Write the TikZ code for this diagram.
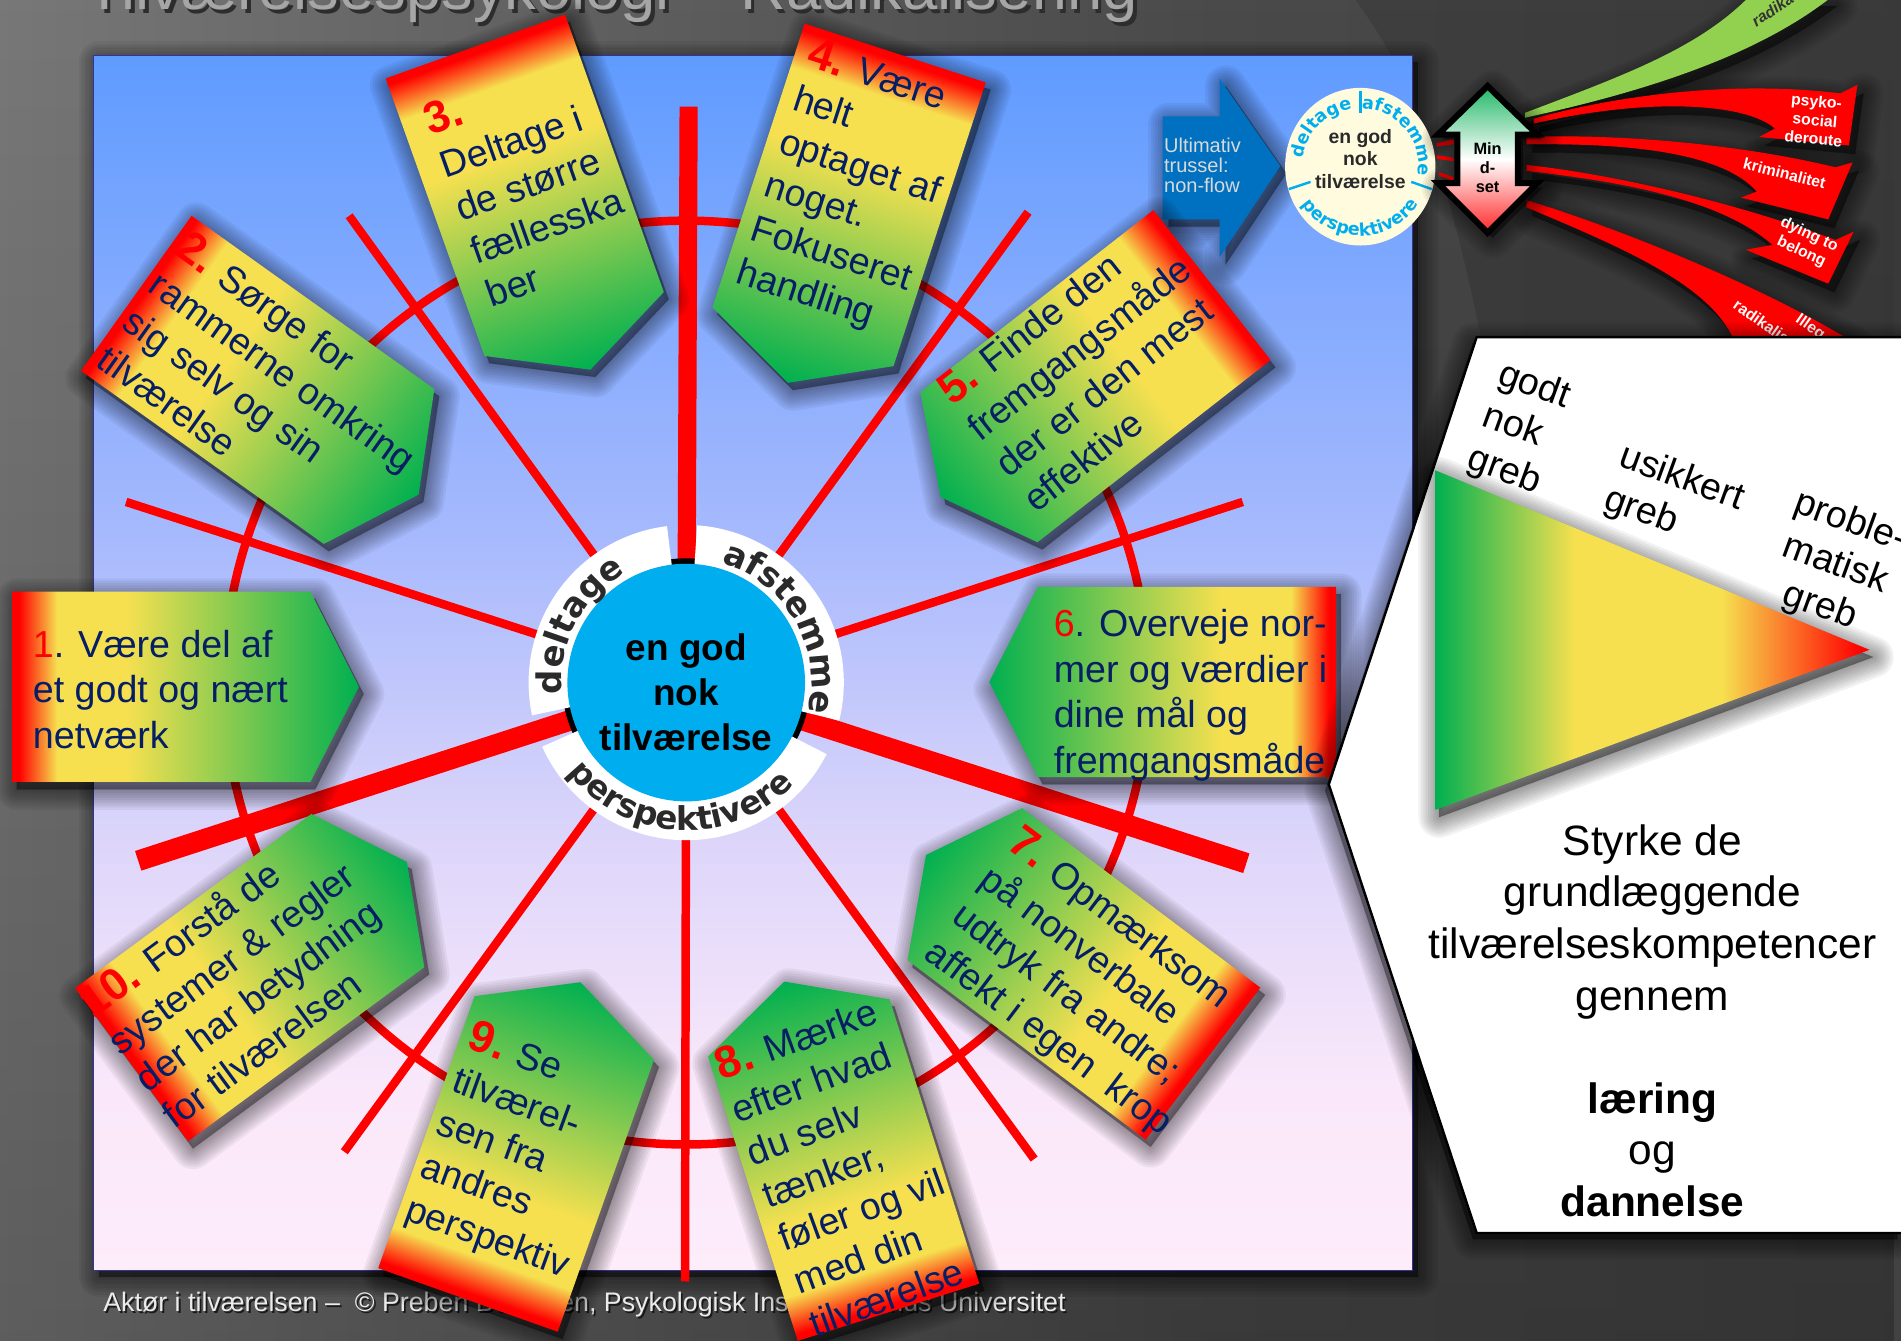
\documentclass[tikz,border=0pt]{standalone}
\usepackage{fontspec}
\setmainfont{Liberation Sans}
\newfontfamily\dv{DejaVu Sans}
\usetikzlibrary{decorations.text,fadings}
\definecolor{navy}{RGB}{5,30,100}
\definecolor{yel}{RGB}{246,224,80}
\definecolor{grn}{RGB}{0,176,80}
\definecolor{ringtxt}{RGB}{42,42,42}
\definecolor{sky}{RGB}{0,174,239}
\definecolor{cream}{RGB}{255,251,222}
\definecolor{arrowblue}{RGB}{0,112,192}
\definecolor{swgreen}{RGB}{146,208,80}
\pgfdeclarehorizontalshading{boxshade}{100bp}{color(0bp)=(red); color(26bp)=(red); color(31.5bp)=(yel); color(41.5bp)=(yel); color(75bp)=(grn); color(100bp)=(grn)}
\pgfdeclarehorizontalshading{trishade}{100bp}{color(0bp)=(grn); color(25bp)=(grn); color(41bp)=(yel); color(58bp)=(yel); color(74bp)=(red); color(100bp)=(red)}
\pgfdeclareverticalshading{panelshade}{100bp}{rgb(0bp)=(.992,.925,.98); rgb(25bp)=(.992,.925,.98); rgb(32.4bp)=(.98,.91,.98); rgb(42.4bp)=(.87,.84,.98); rgb(55.4bp)=(.65,.725,.992); rgb(75bp)=(.373,.608,1); rgb(100bp)=(.373,.608,1)}
\pgfdeclareverticalshading{mindshade}{100bp}{rgb(0bp)=(1,.15,.15); rgb(25bp)=(1,.15,.15); rgb(50bp)=(1,1,1); rgb(75bp)=(.13,.72,.4); rgb(100bp)=(.13,.72,.4)}
\pgfdeclarehorizontalshading{bgshade}{100bp}{rgb(0bp)=(.47,.47,.47); rgb(25bp)=(.47,.47,.47); rgb(38bp)=(.39,.39,.39); rgb(57bp)=(.29,.29,.29); rgb(75bp)=(.26,.26,.26); rgb(100bp)=(.26,.26,.26)}
\tikzset{
 softshade/.style={fill=black,draw=black,opacity=.05,line join=round},
 spoke/.style={red,line width=7pt},
 thickspoke/.style={red,line width=17pt},
 boxtxt/.style={text=navy,font=\fontsize{31}{37.6}\selectfont},
 sw/.style={font=\bfseries\fontsize{13}{15.5}\selectfont,text=white,inner sep=0pt,align=center}
}
\newcommand{\pent}[1]{(0,0) -- (#1,0) -- (#1+40,78.5) -- (#1,157) -- (0,157) -- cycle}
\newcommand{\softshadow}[3]{% dx dy path
 \begin{scope}[xshift=#1pt,yshift=-#2pt]
 \foreach \w in {34,30,26,22,18,14,10,6,2}{\path[softshade,line width=\w pt] #3;}
 \end{scope}}
\newcommand{\gbox}[4]{%
 \begin{scope}[transform canvas={shift={(#1,#2)},xshift=4pt,yshift=-6pt,rotate=#3}]
 \foreach \w in {34,30,26,22,18,14,10,6,2}{\path[softshade,line width=\w pt] \pent{#4};}
 \end{scope}
 \begin{scope}[transform canvas={shift={(#1,#2)},rotate=#3}]
 \shade[shading=boxshade] \pent{#4};
 \end{scope}}
\newcommand{\txt}[6][left]{%
 \begin{scope}[shift={(#3,#4)},rotate=#5]
 \node[anchor=north west,inner sep=0pt,align=#1,transform shape,boxtxt] (#2) at (0,-28) {\rule{0pt}{28pt}#6};
 \end{scope}}
\newcommand{\nm}[1]{{\bfseries\fontsize{37}{37}\selectfont\color{red}#1}}
\begin{document}
\begin{tikzpicture}[x=1pt,y=-1pt]
\path[use as bounding box] (0,0) rectangle (1568,1106);
\clip (0,0) rectangle (1568,1106);
% background
\shade[shading=bgshade] (0,0) rectangle (1568,1106);
\fill[black,opacity=.22,path fading=north] (0,0) rectangle (1568,1106);
\fill[black,opacity=.12] (1118,0) .. controls (1170,70) and (1195,150) .. (1222,280) -- (1568,280) -- (1568,0) -- cycle;
% title
\node[anchor=base west,inner sep=0pt,text=black!65!gray,font=\fontsize{52.2}{52}\selectfont] (titleshadow) at (73,11) {Tilværelsespsykologi – Radikalisering};
\node[anchor=base west,inner sep=0pt,text=black!35!white,font=\fontsize{52.2}{52}\selectfont] (title) at (70,8) {Tilværelsespsykologi – Radikalisering};
% panel
\softshadow{5}{5}{(77,46) rectangle (1165,1048)}
\shade[shading=panelshade] (77,46) rectangle (1165,1048);
\draw[black!30!blue!60!gray,line width=1.2pt] (77,46) rectangle (1165,1048);
% footer
\node[anchor=base west,inner sep=0pt,text=black!80!gray,font=\fontsize{22.1}{24}\selectfont] (footshadow) at (86.5,1083.5) {Aktør i tilværelsen –\ \ © Preben Bertelsen, Psykologisk Institut, Aarhus Universitet};
\node[anchor=base west,inner sep=0pt,text=black!8!white,font=\fontsize{22.1}{24}\selectfont] (foot) at (85,1082) {Aktør i tilværelsen –\ \ © Preben Bertelsen, Psykologisk Institut, Aarhus Universitet};
% wheel
\coordinate (c) at (566,563);
\coordinate (s1) at (568,88);
\coordinate (s2) at (848,175);
\coordinate (s3) at (1025,414);
\coordinate (s4) at (1028,712);
\coordinate (s5) at (853,956);
\coordinate (s6) at (565,1057);
\coordinate (s7) at (284,950);
\coordinate (s8) at (114,710);
\coordinate (s9) at (104,414);
\coordinate (s10) at (288,178);
\draw[red,line width=7pt] (c) circle[radius=381];
\draw[red,line width=15pt] (c) -- (s1);
\draw[spoke] (c) -- (s2);
\draw[spoke] (c) -- (s3);
\draw[thickspoke] (c) -- (s4);
\draw[spoke] (c) -- (s5);
\draw[spoke] (c) -- (s6);
\draw[spoke] (c) -- (s7);
\draw[thickspoke] (c) -- (s8);
\draw[spoke] (c) -- (s9);
\draw[spoke] (c) -- (s10);
% hub
\begin{scope}[shift={(c)},x=1pt,y=1pt]
\fill[black] (0,0) circle[radius=102.5];
\fill[white] (97:97) arc (97:192:97) -- (192:130) arc (192:97:130) -- cycle;
\fill[white] (86:97) arc (86:-14:97) -- (-14:130) arc (-14:86:130) -- cycle;
\fill[white] (204:97) arc (204:333:97) -- (333:130) arc (333:204:130) -- cycle;
\fill[sky] (0,0) circle[radius=98];
\path[decorate,decoration={text along path,text align=center,text={|\dv\bfseries\fontsize{28}{28}\selectfont\color{ringtxt}|deltage}}] (192:103) arc (192:112:103);
\path[decorate,decoration={text along path,text align=center,text={|\dv\bfseries\fontsize{28}{28}\selectfont\color{ringtxt}|afstemme}}] (80:103) arc (80:-20:103);
\path[decorate,decoration={text along path,text align=center,text={|\dv\bfseries\fontsize{27}{27}\selectfont\color{ringtxt}|perspektivere}}] (205:122) arc (205:329:122);
\end{scope}
\node[inner sep=0pt,align=center,text=black,font=\bfseries\fontsize{30.5}{36.9}\selectfont] (core) at (566,571) {en god\\nok\\tilværelse};
% blue arrow
\softshadow{5}{6}{(959,96) -- (1006,96) -- (1006,65) -- (1056,137) -- (1006,212) -- (1006,181) -- (959,181) -- cycle}
\fill[arrowblue] (959,96) -- (1006,96) -- (1006,65) -- (1056,137) -- (1006,212) -- (1006,181) -- (959,181) -- cycle;
\node[anchor=west,inner sep=0pt,align=left,text=black!15!white,font=\fontsize{16.5}{16.5}\selectfont] (threat) at (960,136) {Ultimativ\\trussel:\\non-flow};
% small circle
\fill[cream] (1122,137.5) ellipse[x radius=62,y radius=65];
\begin{scope}[shift={(1122,137.5)},x=1pt,y=1pt]
\path[decorate,decoration={text along path,text align=center,text={|\dv\bfseries\fontsize{14.5}{14.5}\selectfont\color{sky}|deltage}}] (180:48) arc (180:90:48);
\path[decorate,decoration={text along path,text align=center,text={|\dv\bfseries\fontsize{14.5}{14.5}\selectfont\color{sky}|afstemme}}] (90:48) arc (90:-10:48);
\path[decorate,decoration={text along path,text align=center,text={|\dv\bfseries\fontsize{14.5}{14.5}\selectfont\color{sky}|perspektivere}}] (205:57) arc (205:335:57);
\end{scope}
\coordinate (b1) at (1122,75); \coordinate (b2) at (1122,93);
\coordinate (b3) at (1063,156); \coordinate (b4) at (1081,150);
\coordinate (b5) at (1164,150); \coordinate (b6) at (1181,156);
\draw[sky,line width=2pt] (b1) -- (b2);
\draw[sky,line width=2pt] (b3) -- (b4);
\draw[sky,line width=2pt] (b5) -- (b6);
\node[inner sep=0pt,align=center,text=ringtxt,font=\bfseries\fontsize{16}{18.5}\selectfont] (minic) at (1122,131) {en god\\nok\\tilværelse};
% swooshes
\def\swg{(1258,93) .. controls (1340,62) and (1400,40) .. (1442,-2) -- (1510,-2) .. controls (1450,45) and (1360,75) .. (1258,97) -- cycle}
\def\swa{(1265,98) .. controls (1320,82) and (1420,65) .. (1518,77) -- (1532,70) -- (1525,120) -- (1451,113) -- (1464,106) .. controls (1440,85) and (1360,80) .. (1265,102) -- cycle}
\def\swb{(1259,113) .. controls (1340,110) and (1440,120) .. (1514,138) -- (1528,134) -- (1508,181) -- (1436,163) -- (1449,158) .. controls (1420,125) and (1340,118) .. (1259,119) -- cycle}
\def\swc{(1259,136) .. controls (1340,145) and (1440,170) .. (1514,198) -- (1529,191) -- (1508,234) -- (1440,206) -- (1462,202) .. controls (1420,165) and (1340,150) .. (1259,141) -- cycle}
\def\swd{(1259,165) .. controls (1340,190) and (1450,235) .. (1525,280) -- (1430,280) .. controls (1410,235) and (1340,205) .. (1259,171) -- cycle}
\softshadow{5}{7}{\swg}
\softshadow{5}{7}{\swa}
\softshadow{5}{7}{\swb}
\softshadow{5}{7}{\swc}
\softshadow{5}{7}{\swd}
\fill[swgreen] \swg;
\fill[red] \swa;
\fill[red] \swb;
\fill[red] \swc;
\fill[red] \swd;
\fill[red] (1185,118) -- (1199,115) -- (1199,119) -- (1185,121) -- cycle;
\fill[red] (1185,128) -- (1199,130) -- (1199,133) -- (1185,131) -- cycle;
\fill[red] (1187,142) -- (1199,146) -- (1199,149) -- (1187,145) -- cycle;
\node[sw,text=black!80!white,font=\itshape\bfseries\fontsize{13}{15}\selectfont,rotate=34] (g) at (1462,8) {radika};
\node[sw,rotate=-5] (r1) at (1497,99) {psyko-\\social\\deroute};
\node[sw,rotate=-14] (r2) at (1472,143) {kriminalitet};
\node[sw,rotate=-25] (r3) at (1489,201) {dying to\\belong};
\node[sw,rotate=-35] (r4) at (1453,265) {radikalis};
\node[sw,rotate=-35] (r5) at (1493,270) {Illeg};
% mindset arrow
\def\mind{(1227,71) -- (1268,111) -- (1252,111) -- (1252,151) -- (1268,151) -- (1227,192) -- (1186,151) -- (1202,151) -- (1202,111) -- (1186,111) -- cycle}
\softshadow{4}{4}{\mind}
\shade[shading=mindshade,draw=black,line width=5pt,miter limit=10] \mind;
\node[inner sep=0pt,align=center,text=black,font=\bfseries\fontsize{13.5}{15.8}\selectfont] (mind) at (1227,138) {Min\\d-\\set};
% boxes
\gbox{10}{488}{0}{246}\gbox{158}{178}{-35.5}{246}\gbox{466}{12}{-70.4}{243}\gbox{813}{68}{-108}{246}
\gbox{1048}{297}{-142}{244}\gbox{1102}{641}{180}{246}\gbox{945}{940}{143}{246}\gbox{658}{1106}{107.5}{246}
\gbox{312}{1046}{70.5}{238}\gbox{62}{815}{36.4}{242}
\txt{t1}{27}{542}{0}{{\color{red}1}. Være del af\\et godt og nært\\netværk}
\txt{t2}{143}{209}{-35.5}{\nm{2.} Sørge for\\rammerne omkring\\sig selv og sin\\tilværelse}
\txt{t3}{355}{112}{19.5}{\nm{3.}\\Deltage i\\de større\\fællesska\\ber}
\txt{t4}{664}{54}{-18}{\nm{4.} Være\\helt\\optaget af\\noget.\\Fokuseret\\handling}
\txt{t5}{785}{335}{38}{\nm{5.} Finde den\\fremgangsmåde\\der er den mest\\effektive}
\txt{t6}{869}{525}{0}{{\color{red}6}. Overveje nor-\\mer og værdier i\\dine mål og\\fremgangsmåde}
\txt{t7}{829}{699}{-37}{\nm{7.} Opmærksom\\på nonverbale\\udtryk fra andre;\\affekt i egen\ \ krop}
\txt{t8}{595}{891}{20}{\nm{8.} Mærke\\efter hvad\\du selv\\tænker,\\føler og vil\\med din\\tilværelse}
\txt{t9}{384}{864}{-20}{\nm{9.} Se\\tilværel-\\sen fra\\andres\\perspektiv}
\txt{t10}{77}{841}{36.4}{\nm{10.} Forstå de\\systemer \& regler\\der har betydning\\for tilværelsen}
% white panel
\softshadow{-3}{5}{(1218,278) -- (1568,278) -- (1568,1017) -- (1218,1017) -- (1096,647) -- cycle}
\draw[black,line width=2pt,fill=white] (1218,278) -- (1570,278) -- (1570,1017) -- (1218,1017) -- (1096,647) -- cycle;
\softshadow{3}{6}{(1184,388) -- (1542,536) -- (1184,668) -- cycle}
\shade[shading=trishade] (1184,388) -- (1542,536) -- (1184,668) -- cycle;
\begin{scope}[boxtxt/.style={text=black,font=\fontsize{31}{37}\selectfont}]
\txt{l1}{1234}{316}{-20}{godt\\nok\\greb}
\txt{l2}{1334}{384}{-20}{usikkert\\greb}
\txt[center]{l3}{1478}{422}{-20}{proble-\\matisk\\greb}
\end{scope}
\node[anchor=north,inner sep=0pt,align=center,text=black,font=\fontsize{35}{42.5}\selectfont] (msg) at (1363,680) {Styrke de\\grundlæggende\\tilværelseskompetencer\\gennem\\[42.5pt]{\bfseries læring}\\og\\{\bfseries dannelse}};
\end{tikzpicture}
\end{document}
